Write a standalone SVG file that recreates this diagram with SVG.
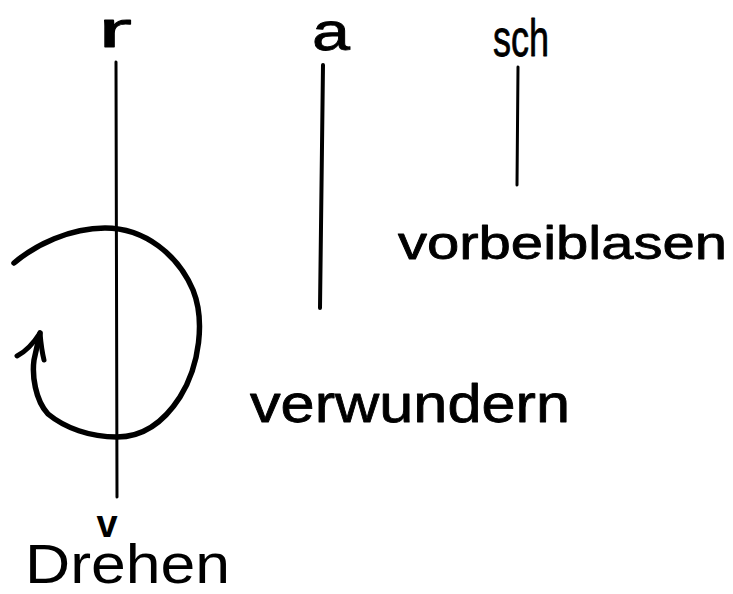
<svg xmlns="http://www.w3.org/2000/svg" width="733" height="594" viewBox="0 0 733 594">
<style>
.hw{font-family:"Liberation Sans","DejaVu Sans",sans-serif;fill:#000;stroke:#000;stroke-width:0.8;stroke-linejoin:round}
.ln{fill:none;stroke:#000;stroke-linecap:round;stroke-linejoin:round}
.pr{font-family:"Liberation Sans",Arial,sans-serif;fill:#000}
</style>
<rect width="733" height="594" fill="#fff"/>
<g id="label-r"><text class="hw" x="98" y="47" font-size="50" textLength="34" lengthAdjust="spacingAndGlyphs">r</text></g>
<g id="label-a"><text class="hw" x="312" y="50" font-size="54" textLength="38" lengthAdjust="spacingAndGlyphs">a</text></g>
<g id="label-sch"><text class="hw" x="493" y="56" font-size="52" textLength="56" lengthAdjust="spacingAndGlyphs">sch</text></g>
<g id="label-vorbeiblasen"><text class="hw" x="398" y="259" font-size="46" textLength="329" lengthAdjust="spacingAndGlyphs">vorbeiblasen</text></g>
<g id="label-verwundern"><text class="hw" x="250" y="422" font-size="54" textLength="320" lengthAdjust="spacingAndGlyphs">verwundern</text></g>
<g id="label-v"><text class="pr" x="107" y="537" font-size="38" font-weight="bold" text-anchor="middle">v</text></g>
<g id="label-drehen"><text class="pr" x="25" y="583" font-size="55" textLength="205" lengthAdjust="spacingAndGlyphs">Drehen</text></g>
<g id="connectors">
<path class="ln" stroke-width="3" d="M116,62 L117,497"/>
<path class="ln" stroke-width="4" d="M323,65 L320,308"/>
<path class="ln" stroke-width="3" d="M518,67 L517,185"/>
<path class="ln" stroke-width="5.5" d="M14,263 C35,245 70,228 105,228 C145,228 178,255 193,290 C205,320 200,365 180,397 C162,425 140,437 117,437 C90,437 65,428 48,414 C35,400 32,375 34,360 L40,333"/>
<path class="ln" stroke-width="5" d="M17,356 C25,352 33,344 40,333 C41,345 42,352 44,360"/>
</g>
</svg>
